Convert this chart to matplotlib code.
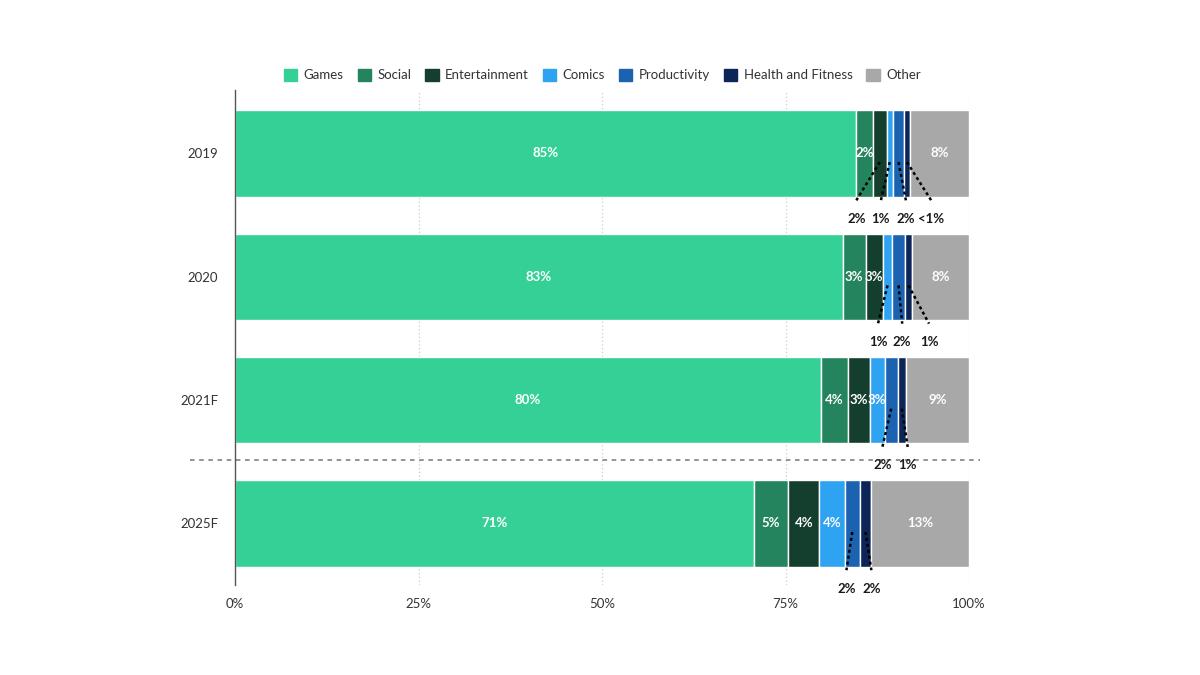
import matplotlib
matplotlib.use("Agg")
import matplotlib.pyplot as plt
import numpy as np

plt.rcParams['font.family'] = ['Lato', 'DejaVu Sans']

years = ["2019", "2020", "2021F", "2025F"]
categories = ["Games", "Social", "Entertainment", "Comics", "Productivity", "Health and Fitness", "Other"]
colors = ["#34D096", "#24845E", "#143F2F", "#2EA3F2", "#1B63B0", "#0C2659", "#A8A8A8"]

values = {
    "2019":  [84.6, 2.3, 1.9, 0.8, 1.6, 0.7, 8.1],
    "2020":  [82.8, 3.1, 2.4, 1.2, 1.8, 0.9, 7.8],
    "2021F": [79.8, 3.7, 3.0, 2.0, 1.8, 1.1, 8.6],
    "2025F": [70.7, 4.7, 4.2, 3.5, 2.0, 1.6, 13.3],
}
labels = {
    "2019":  ["85%", "2%", "2%", "1%", "2%", "<1%", "8%"],
    "2020":  ["83%", "3%", "3%", "1%", "2%", "1%", "8%"],
    "2021F": ["80%", "4%", "3%", "3%", "2%", "1%", "9%"],
    "2025F": ["71%", "5%", "4%", "4%", "2%", "2%", "13%"],
}
# which segments are labelled inside (True) or via callout (False)
inside = {
    "2019":  [True, True, False, False, False, False, True],
    "2020":  [True, True, True, False, False, False, True],
    "2021F": [True, True, True, True, False, False, True],
    "2025F": [True, True, True, True, False, False, True],
}
# callout text x-offsets (in %) relative to segment centre, layout only
callout_dx = {
    "2019":  [0, 0, -3.2, -1.2, 1.0, 3.3, 0],
    "2020":  [0, 0, 0, -1.3, 0.5, 2.8, 0],
    "2021F": [0, 0, 0, 0, -1.2, 0.8, 0],
    "2025F": [0, 0, 0, 0, -0.8, 0.8, 0],
}

fig = plt.figure(figsize=(12, 6.75), dpi=100)
ax = fig.add_axes([235/1200, 1-585/675, (969-235)/1200, (585-90)/675])

bar_h = 0.70
for i, yr in enumerate(years):
    left = 0.0
    for j, cat in enumerate(categories):
        v = values[yr][j]
        ax.barh(i, v, left=left, height=bar_h, color=colors[j],
                edgecolor="white", linewidth=1.0, zorder=3)
        cx = left + v / 2
        if inside[yr][j]:
            ax.text(cx, i, labels[yr][j], ha="center", va="center",
                    color="white", fontsize=9.5, fontweight="bold", zorder=5)
        else:
            tx = cx + callout_dx[yr][j]
            ax.plot([cx, tx], [i + 0.07, i + 0.38], color="black",
                    linestyle=(0, (1.2, 1.2)), linewidth=1.8, zorder=6,
                    clip_on=False)
            ax.text(tx, i + 0.53, labels[yr][j], ha="center", va="center",
                    color="#1a1a1a", fontsize=9.5, fontweight="bold", zorder=6)
        left += v

ax.set_xlim(0, 100)
ax.set_ylim(3.5, -0.515)
ax.set_yticks(range(len(years)))
ax.set_yticklabels(years, fontsize=9.5, color="#333333")
ax.set_xticks([0, 25, 50, 75, 100])
ax.set_xticklabels(["0%", "25%", "50%", "75%", "100%"], fontsize=9.5, color="#333333")
ax.tick_params(axis="both", length=0)
ax.tick_params(axis="y", pad=12)
ax.tick_params(axis="x", pad=9)

for s in ["top", "right", "bottom"]:
    ax.spines[s].set_visible(False)
ax.spines["left"].set_color("#555555")
ax.spines["left"].set_linewidth(1.0)
ax.spines["left"].set_zorder(10)

for gx in [25, 50, 75, 100]:
    ax.axvline(gx, color="#cccccc", linestyle=(0, (1, 2)), linewidth=0.9, zorder=1)

# forecast separator
ax.plot([-6.1, 101.5], [2.49, 2.49], color="#777777", linestyle=(0, (3, 3)),
        linewidth=1.1, clip_on=False, zorder=2)

handles = [plt.Rectangle((0, 0), 1, 1, color=c) for c in colors]
fig.legend(handles, categories, loc="center", bbox_to_anchor=(0.502, 1-75/675),
           ncol=7, frameon=False, fontsize=9.5, handlelength=1.0, handleheight=1.0,
           handletextpad=0.5, columnspacing=1.05, labelcolor="#333333")

fig.savefig("out.png", dpi=100, facecolor="white")
